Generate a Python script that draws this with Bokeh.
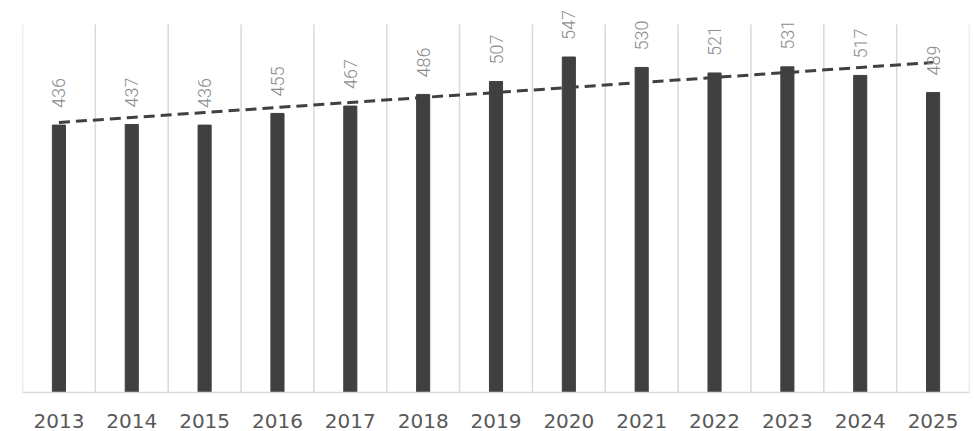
import numpy as np
from bokeh.plotting import figure
from bokeh.models import ColumnDataSource, FixedTicker, Range1d
from bokeh.core.properties import value
from bokeh.embed import file_html
from bokeh.resources import INLINE

years = [2013, 2014, 2015, 2016, 2017, 2018, 2019, 2020, 2021, 2022, 2023, 2024, 2025]
year_labels = ["2013", "2014", "2015", "2016", "2017", "2018", "2019", "2020", "2021", "2022", "2023", "2024", "2025"]
values = [436, 437, 436, 455, 467, 486, 507, 547, 530, 521, 531, 517, 489]
value_labels = [str(v) for v in values]
axis_max = 600

x = np.array(years, dtype=float)
y = np.array(values, dtype=float)
slope, intercept = np.polyfit(x, y, 1)
trend = slope * x + intercept

src = ColumnDataSource(dict(x=years, top=values, lab=value_labels))
bounds = [yr - 0.5 for yr in years] + [years[-1] + 0.5]
gsrc = ColumnDataSource(dict(x0=bounds, y0=[0] * len(bounds), x1=bounds, y1=[axis_max] * len(bounds)))

frame_h = 392
top_pad = 24
y_top = axis_max * frame_h / (frame_h - top_pad)

p = figure(width=972, height=431, output_backend="svg", toolbar_location=None,
           x_range=Range1d(years[0] - 0.5, years[-1] + 0.5), y_range=Range1d(0, y_top),
           min_border_left=22, min_border_right=3, min_border_top=0, min_border_bottom=39)
p.outline_line_color = None
p.background_fill_color = "white"
p.border_fill_color = "white"
p.xgrid.grid_line_color = None
p.ygrid.grid_line_color = None
p.yaxis.visible = False

p.segment(x0="x0", y0="y0", x1="x1", y1="y1", source=gsrc, line_color="#d9d9d9", line_width=1.5)
p.vbar(x="x", top="top", width=0.18, bottom=0, source=src, color="#404040")
p.line(list(x), list(trend), line_color="#404040", line_width=3, line_dash="11 6")
p.text(x="x", y="top", text="lab", source=src, angle=np.pi / 2, text_align="left",
       text_baseline="middle", y_offset=-17, text_color="#8c8c8c",
       text_font=value("Roboto Light"), text_font_size="18px")

p.xaxis.ticker = FixedTicker(ticks=years)
p.xaxis.major_label_overrides = {yr: lab for yr, lab in zip(years, year_labels)}
p.xaxis.axis_line_color = "#d9d9d9"
p.xaxis.axis_line_width = 1.5
p.xaxis.major_tick_line_color = None
p.xaxis.minor_tick_line_color = None
p.xaxis.major_label_standoff = 15
p.xaxis.major_label_text_font = "DejaVu Sans"
p.xaxis.major_label_text_font_size = "20px"
p.xaxis.major_label_text_color = "#595959"

open("out.html", "w").write(file_html(p, INLINE))
